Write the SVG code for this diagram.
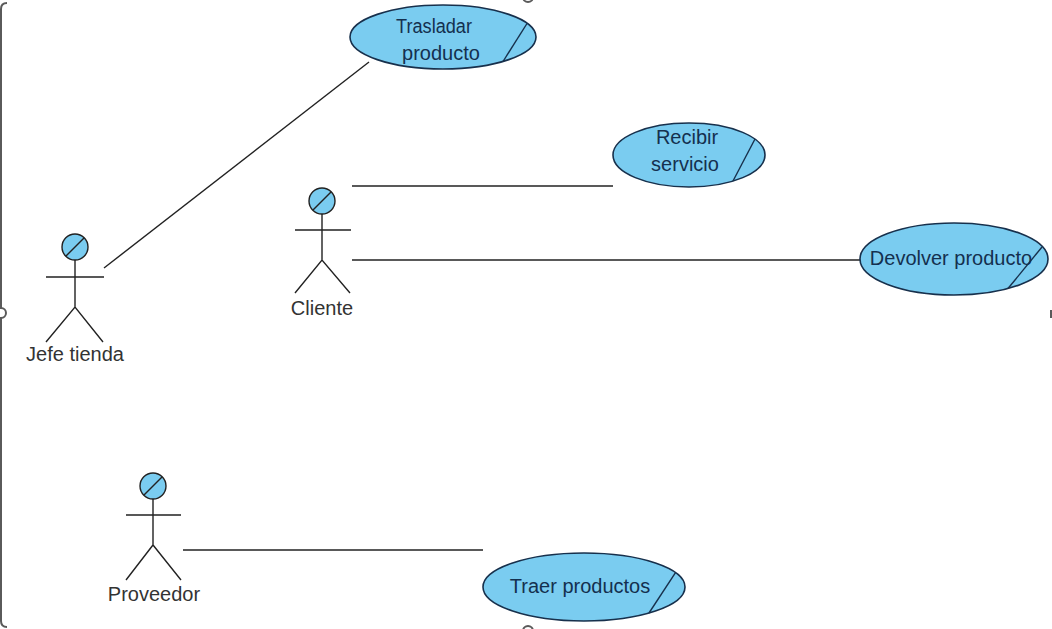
<svg xmlns="http://www.w3.org/2000/svg" width="1052" height="629" viewBox="0 0 1052 629">
<style>
.uc{fill:#7ACCF0;stroke:#17304C;stroke-width:1.6}
.sl{stroke:#17304C;stroke-width:1.4;fill:none}
.ut{font-family:"Liberation Sans",Arial,sans-serif;font-size:20px;fill:#14304F;text-anchor:middle}
.at{font-family:"Liberation Sans",Arial,sans-serif;font-size:20px;fill:#333;text-anchor:middle}
.head{fill:#7ACCF0;stroke:#222;stroke-width:1.4}
.fig{stroke:#222;stroke-width:1.4;fill:none}
.con{stroke:#222;stroke-width:1.4;fill:none}
.frame{stroke:#5a5a5a;stroke-width:2;fill:none}
.hd{stroke:#5a5a5a;stroke-width:2;fill:#fff}
</style>
<rect width="1052" height="629" fill="#fff"/>
<g id="frame">
<path class="frame" d="M7,3 Q1,3 1,9 L1,621 Q1,627 7,627"/>
<circle class="hd" cx="1" cy="313" r="5"/>
<circle class="hd" cx="528" cy="-3" r="5"/>
<circle class="hd" cx="528" cy="631" r="5"/>
<line class="frame" x1="1051" y1="310" x2="1051" y2="318"/>
</g>
<g id="connectors">
<line class="con" x1="104" y1="268" x2="369" y2="62"/>
<line class="con" x1="352" y1="186" x2="613" y2="186"/>
<line class="con" x1="352" y1="260" x2="861" y2="260"/>
<line class="con" x1="183" y1="550" x2="483" y2="550"/>
</g>
<g id="uc-trasladar">
<ellipse class="uc" cx="443" cy="37" rx="93" ry="32"/>
<line class="sl" x1="527" y1="23.5" x2="503" y2="61.5"/>
<text class="ut" x="434" y="33" textLength="76" lengthAdjust="spacingAndGlyphs">Trasladar</text>
<text class="ut" x="441" y="60">producto</text>
</g>
<g id="uc-recibir">
<ellipse class="uc" cx="689" cy="155" rx="76" ry="32"/>
<line class="sl" x1="755" y1="139" x2="733" y2="181"/>
<text class="ut" x="687" y="144">Recibir</text>
<text class="ut" x="685" y="171">servicio</text>
</g>
<g id="uc-devolver">
<ellipse class="uc" cx="954" cy="259" rx="94" ry="36"/>
<line class="sl" x1="1042" y1="247" x2="1008" y2="288.5"/>
<text class="ut" x="951" y="265">Devolver producto</text>
</g>
<g id="uc-traer">
<ellipse class="uc" cx="584" cy="587" rx="101" ry="34"/>
<line class="sl" x1="675.5" y1="572.6" x2="649" y2="613"/>
<text class="ut" x="580" y="593">Traer productos</text>
</g>
<g id="actor-jefe">
<circle class="head" cx="75" cy="247" r="13"/>
<line class="fig" x1="66" y1="256" x2="84" y2="238"/>
<path class="fig" d="M75,260 L75,307 M46,277 L104,277 M46,342 L75,307 L103,342"/>
<text class="at" x="75" y="361">Jefe tienda</text>
</g>
<g id="actor-cliente">
<circle class="head" cx="322" cy="201" r="13"/>
<line class="fig" x1="313" y1="210" x2="331" y2="192"/>
<path class="fig" d="M322,214 L322,260 M295,230 L351,230 M295,293 L322,260 L350,293"/>
<text class="at" x="322" y="315">Cliente</text>
</g>
<g id="actor-proveedor">
<circle class="head" cx="153" cy="486" r="13"/>
<line class="fig" x1="144" y1="495" x2="162" y2="477"/>
<path class="fig" d="M153,499 L153,545 M126,515 L181,515 M126,580 L153,545 L181,580"/>
<text class="at" x="154" y="601">Proveedor</text>
</g>
</svg>
